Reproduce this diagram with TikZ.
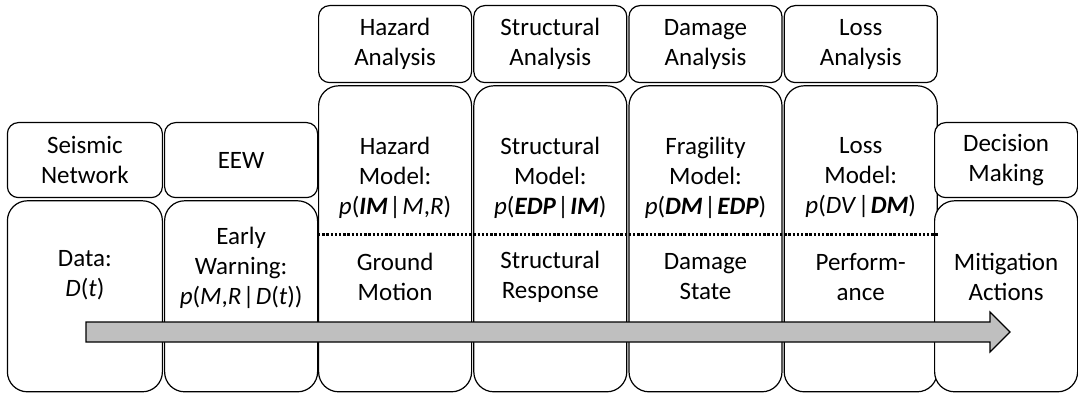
\documentclass[tikz,border=0pt]{standalone}
\usepackage{fontspec}
\setmainfont{Carlito}
\usetikzlibrary{positioning}
\tikzstyle{headbox} = [draw=black, fill=white, line width=1.2pt,
    rectangle, rounded corners=11pt, minimum width=153pt, inner sep=0pt,
    align=center, font=\fontsize{25}{30}\selectfont]
\tikzstyle{stagebox} = [draw=black, fill=white, line width=1.2pt,
    rectangle, rounded corners=20pt, minimum width=153pt, inner sep=0pt]
\tikzstyle{boxtext} = [align=center, inner sep=0pt, font=\fontsize{25}{30}\selectfont]
\tikzstyle{flowarrow} = [draw=black, fill=gray!50, line width=1.2pt, line join=miter]
\newcommand{\bi}[1]{\textbf{\textit{#1}}}
\newcommand{\given}{\kern1.5pt|\kern1.5pt}

\begin{document}
\begin{tikzpicture}[x=1pt, y=-1pt]
                \useasboundingbox (0,0) rectangle (1078,395);
                % analysis headers on top
                \node [headbox, minimum height=77pt, anchor=north west] (hazhead) at (318,5) {Hazard\\Analysis};
                \node [headbox, minimum height=77pt, right=1pt of hazhead] (strhead) {Structural\\Analysis};
                \node [headbox, minimum height=77pt, right=1pt of strhead] (damhead) {Damage\\Analysis};
                \node [headbox, minimum height=77pt, right=1pt of damhead] (losshead) {Loss\\Analysis};
                % model boxes
                \node [stagebox, minimum height=306pt, below=2pt of hazhead] (hazbig) {};
                \node [stagebox, minimum height=306pt, below=2pt of strhead] (strbig) {};
                \node [stagebox, minimum height=306pt, below=2pt of damhead] (dambig) {};
                \node [stagebox, minimum height=306pt, below=2pt of losshead] (lossbig) {};
                % side columns
                \node [headbox, minimum height=75pt, anchor=north west] (eewhead) at (164,122) {EEW};
                \node [headbox, minimum height=75pt, minimum width=155pt, left=1pt of eewhead] (nethead) {Seismic\\Network};
                \node [headbox, minimum height=75pt, minimum width=143pt, anchor=north west] (dechead) at (934,122) {Decision\\Making};
                \node [stagebox, minimum height=191pt, below=2pt of eewhead] (eewbox) {};
                \node [stagebox, minimum height=191pt, minimum width=155pt, below=2pt of nethead] (netbox) {};
                \node [stagebox, minimum height=191pt, minimum width=143pt, below=2pt of dechead] (decbox) {};
                % texts
                \node [boxtext] (hazmodel) at (hazbig.center |- 0,178) {Hazard\\Model:\\\textit{p}(\bi{IM}\given\textit{M},\textit{R})};
                \node [boxtext] (strmodel) at (strbig.center |- 0,178) {Structural\\Model:\\\textit{p}(\bi{EDP}\given\bi{IM})};
                \node [boxtext] (dammodel) at (dambig.center |- 0,178) {Fragility\\Model:\\\textit{p}(\bi{DM}\given\bi{EDP})};
                \node [boxtext] (lossmodel) at (lossbig.center |- 0,178) {Loss\\Model:\\\textit{p}(\textit{DV}\given\bi{DM})};
                \node [boxtext] (hazout) at (hazbig.center |- 0,277) {Ground\\Motion};
                \node [boxtext] (strout) at (strbig.center |- 0,277) {Structural\\Response};
                \node [boxtext] (damout) at (dambig.center |- 0,277) {Damage\\State};
                \node [boxtext] (lossout) at (lossbig.center |- 0,277) {Perform-\\ance};
                \node [boxtext] (data) at (netbox.center |- 0,275) {Data:\\\textit{D}(\textit{t})};
                \node [boxtext] (warning) at (eewbox.center |- 0,268) {Early\\Warning:\\\textit{p}(\textit{M},\textit{R}\given\textit{D}(\textit{t}))};
                \node [boxtext] (actions) at (decbox.center |- 0,277) {Mitigation\\Actions};
                % split between model and outcome
                \draw [line width=2.6pt, dash pattern=on 2.4pt off 1.8pt] ([yshift=4pt]hazbig.west) -- ([yshift=4pt]lossbig.east);
                % flow arrow
                \draw [flowarrow] (86,322) -- (990,322) -- (990,312) -- (1010,332) -- (990,352) -- (990,342) -- (86,342) -- cycle;
            \end{tikzpicture}
\end{document}
